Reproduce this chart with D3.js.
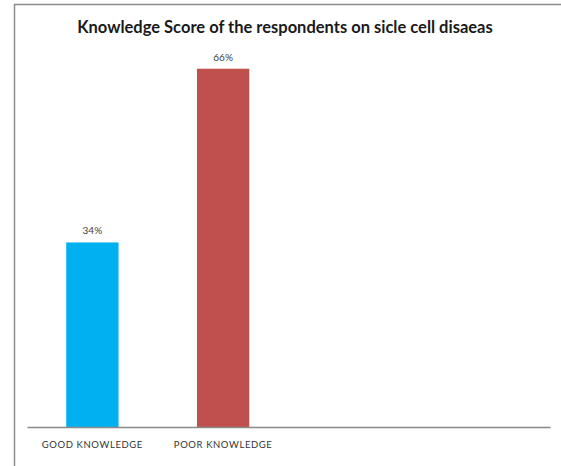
<!DOCTYPE html>
<html>
<head>
<meta charset="utf-8">
<script src="https://cdn.jsdelivr.net/npm/d3@7"></script>
<style>
  body { margin: 0; background: #fff; }
  text { font-family: Lato, "Open Sans", sans-serif; }
</style>
</head>
<body>
<div id="viz"></div>
<script>
  // chart data
  var categories = ["GOOD KNOWLEDGE", "POOR KNOWLEDGE"];
  var values = [34, 66];
  var valueLabels = ["34%", "66%"];
  var barColors = ["#00B0F0", "#C0504D"];
  var slotCount = 4; // excel left two empty category slots

  var W = 561, H = 466;
  var plot = { left: 27, right: 550, top: 47, bottom: 427 };

  var svg = d3.select("#viz").append("svg")
    .attr("width", W).attr("height", H);

  // outer frame (cropped on right / bottom)
  svg.append("path")
    .attr("d", "M14.5," + (H + 2) + "V4.5H" + (W + 2))
    .attr("fill", "none")
    .attr("stroke", "#8c8c8c")
    .attr("stroke-width", 1.5);

  svg.append("text")
    .attr("x", 285).attr("y", 33)
    .attr("text-anchor", "middle")
    .style("font-size", "16.5px")
    .style("font-weight", "bold")
    .style("fill", "#1a1a1a")
    .text("Knowledge Score of the respondents on sicle cell disaeas");

  var x = d3.scaleBand()
    .domain(d3.range(slotCount))
    .range([plot.left, plot.right])
    .paddingInner(0.6)
    .paddingOuter(0.3);

  var y = d3.scaleLinear()
    .domain([0, 70])
    .range([plot.bottom, plot.top]);

  var data = categories.map(function(c, i) {
    return { i: i, name: c, v: values[i], label: valueLabels[i], color: barColors[i] };
  });

  svg.selectAll("rect.bar").data(data).enter().append("rect")
    .attr("class", "bar")
    .attr("x", function(d) { return x(d.i); })
    .attr("y", function(d) { return y(d.v); })
    .attr("width", x.bandwidth())
    .attr("height", function(d) { return y(0) - y(d.v); })
    .style("fill", function(d) { return d.color; });

  svg.selectAll("text.val").data(data).enter().append("text")
    .attr("class", "val")
    .attr("x", function(d) { return x(d.i) + x.bandwidth() / 2; })
    .attr("y", function(d) { return y(d.v) - 8; })
    .attr("text-anchor", "middle")
    .style("font-size", "10px")
    .style("fill", "#404040")
    .text(function(d) { return d.label; });

  // category axis
  var xAxis = d3.axisBottom(x)
    .tickSize(0)
    .tickPadding(14)
    .tickFormat(function(i) { return categories[i] || ""; });

  var gx = svg.append("g")
    .attr("transform", "translate(0," + plot.bottom + ")")
    .call(xAxis);
  gx.select(".domain")
    .attr("stroke", "#8a8a8a")
    .attr("stroke-width", 1.5);
  gx.selectAll("text")
    .style("font-size", "9.5px")
    .style("letter-spacing", "0.6px")
    .style("fill", "#333");
</script>
</body>
</html>
